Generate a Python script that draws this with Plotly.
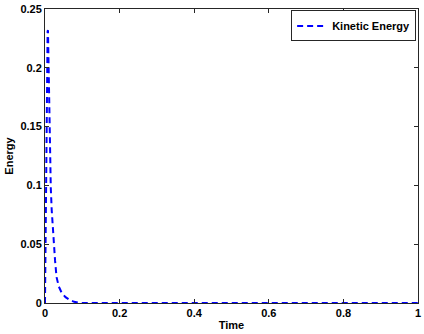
import plotly.graph_objects as go

# Kinetic energy over time
time = [0.0, 0.001, 0.002, 0.003, 0.004, 0.005, 0.006, 0.007, 0.008, 0.0095,
        0.0105, 0.012, 0.0134, 0.0155, 0.018, 0.021, 0.024, 0.027, 0.031,
        0.037, 0.045, 0.055, 0.067, 0.078, 0.09, 0.1, 0.2, 0.4, 0.6, 0.8, 1.0]
kinetic_energy = [0.0, 0.04, 0.09, 0.14, 0.18, 0.21, 0.225, 0.231, 0.232, 0.205,
                  0.173, 0.145, 0.122, 0.098, 0.079, 0.063, 0.051, 0.036, 0.022,
                  0.014, 0.0085, 0.005, 0.0025, 0.001, 0.0003, 0.0, 0.0, 0.0, 0.0, 0.0, 0.0]

x_ticks = [0, 0.2, 0.4, 0.6, 0.8, 1]
y_ticks = [0, 0.05, 0.1, 0.15, 0.2, 0.25]

font = dict(family="Liberation Sans, Arial, sans-serif", size=11, color="black", weight="bold")

fig = go.Figure()
fig.add_trace(go.Scatter(
    x=time, y=kinetic_energy, mode="lines", name="Kinetic Energy",
    line=dict(color="#0000ff", width=2, dash="6px,4px"),
))

axis_common = dict(
    showline=True, linecolor="#262626", linewidth=1, mirror="ticks",
    ticks="inside", ticklen=4, tickcolor="#262626", showgrid=False,
    zeroline=False, tickfont=font, automargin=False,
)
fig.update_xaxes(range=[0, 1], tickvals=x_ticks, ticktext=[f"{v:g}" for v in x_ticks],
                 title=dict(text="Time", font=font, standoff=3), **axis_common)
fig.update_yaxes(range=[0, 0.25], tickvals=y_ticks, ticktext=[f"{v:g}" for v in y_ticks],
                 title=dict(text="Energy", font=font, standoff=4), **axis_common)

fig.update_layout(
    template="none",
    width=424, height=334,
    margin=dict(l=45, r=6, t=9, b=31, autoexpand=False),
    paper_bgcolor="white", plot_bgcolor="white",
    font=font,
    legend=dict(x=0.995, y=0.995, xanchor="right", yanchor="top",
                bordercolor="#262626", borderwidth=1, bgcolor="white",
                font=font, itemwidth=30, tracegroupgap=0),
    showlegend=True,
)

# drop the browser's default body margin so the figure sits at the window origin
fig.write_html("out.html", config={"displayModeBar": False},
               post_script="document.body.style.margin='0';")
